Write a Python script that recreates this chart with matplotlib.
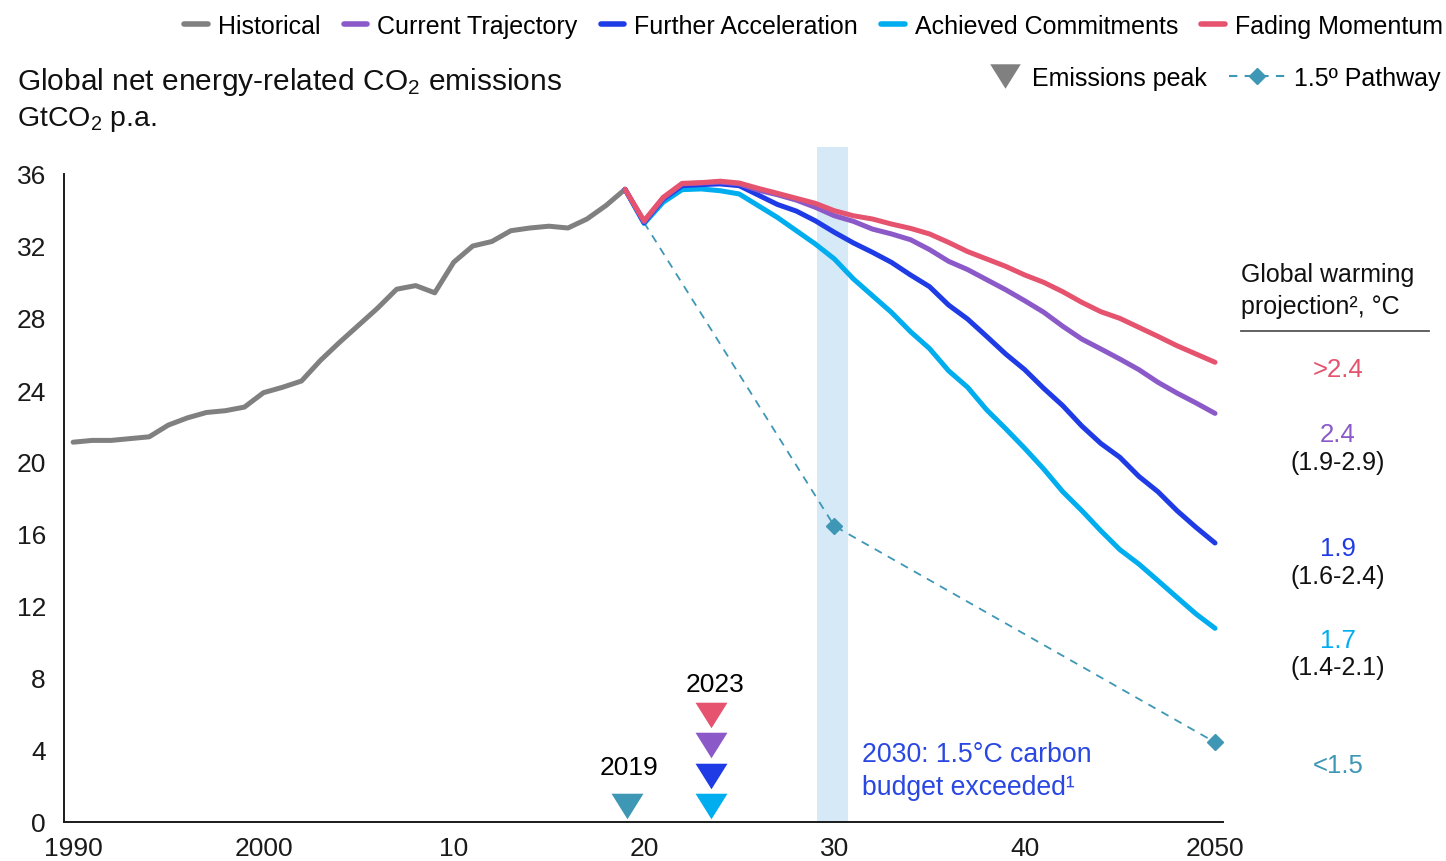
import matplotlib
matplotlib.use("Agg")
import matplotlib.pyplot as plt
from matplotlib.lines import Line2D

plt.rcParams["font.family"] = ["Liberation Sans", "DejaVu Sans"]
plt.rcParams["mathtext.fontset"] = "custom"
plt.rcParams["mathtext.rm"] = "Liberation Sans"
plt.rcParams["mathtext.it"] = "Liberation Sans"

# ── data ────────────────────────────────────────────────────────────────────
hist_years = list(range(1990, 2020))
hist_values = [21.1, 21.2, 21.2, 21.3, 21.4, 22.05, 22.45, 22.75, 22.85, 23.05,
               23.85, 24.15, 24.5, 25.65, 26.65, 27.6, 28.55, 29.6, 29.8, 29.4,
               31.1, 32.0, 32.25, 32.85, 33.0, 33.1, 33.0, 33.5, 34.25, 35.15]

scen_years = list(range(2019, 2051))
fading = [35.15, 33.4, 34.7, 35.48, 35.52, 35.6, 35.5, 35.2, 34.93, 34.65, 34.37,
          33.96, 33.68, 33.5, 33.22, 32.98, 32.67, 32.2, 31.69, 31.28, 30.87,
          30.39, 29.98, 29.46, 28.87, 28.35, 27.98, 27.48, 26.98, 26.46, 26.0, 25.54]
current = [35.15, 33.35, 34.65, 35.45, 35.5, 35.55, 35.45, 35.1, 34.85, 34.55, 34.15,
           33.68, 33.37, 32.94, 32.67, 32.35, 31.8, 31.15, 30.69, 30.13, 29.57,
           28.96, 28.32, 27.54, 26.83, 26.28, 25.72, 25.13, 24.43, 23.83, 23.28, 22.7]
further = [35.15, 33.3, 34.6, 35.35, 35.41, 35.45, 35.35, 34.83, 34.31, 33.94, 33.4,
           32.76, 32.17, 31.65, 31.09, 30.39, 29.74, 28.72, 27.94, 26.98, 26.0,
           25.13, 24.09, 23.13, 22.0, 21.03, 20.26, 19.2, 18.35, 17.3, 16.37, 15.5]
achieved = [35.15, 33.25, 34.43, 35.13, 35.17, 35.07, 34.89, 34.24, 33.59, 32.85, 32.11,
            31.28, 30.17, 29.24, 28.31, 27.24, 26.3, 25.07, 24.15, 22.9, 21.85,
            20.76, 19.61, 18.35, 17.3, 16.18, 15.13, 14.33, 13.41, 12.48, 11.56, 10.76]

pathway_years = [2020, 2030, 2050]
pathway_values = [33.3, 16.44, 4.43]

# emissions peak markers
peak_2019_year = 2019.12
peak_2019_y = 0.9
peak_2023_year = 2023.5
peak_2023_y = [0.9, 2.57, 4.29, 5.93]   # achieved, further, current, fading

warming_main = [">2.4", "2.4", "1.9", "1.7", "<1.5"]
warming_range = ["", "(1.9-2.9)", "(1.6-2.4)", "(1.4-2.1)", ""]

# ── colours ─────────────────────────────────────────────────────────────────
C_HIST = "#808080"
C_CUR = "#8b5ac8"
C_FUR = "#1f3be6"
C_ACH = "#00adef"
C_FAD = "#e5536e"
C_PATH = "#3e97b5"
C_BAND = "#d5e9f7"
C_NOTE = "#2a47e2"

W, H = 1446, 862
fig = plt.figure(figsize=(W / 100, H / 100), dpi=100)
ax = fig.add_axes([64 / W, 1 - 823 / H, (1223 - 64) / W, 675 / H])

ax.axvspan(2029.1, 2030.7, color=C_BAND, lw=0, zorder=0)

lw = 3.6
ax.plot(hist_years, hist_values, color=C_HIST, lw=lw, solid_capstyle="round", zorder=3)
ax.plot(pathway_years, pathway_values, color=C_PATH, lw=1.3, ls=(0, (4.5, 3.8)),
        marker="D", ms=8, markevery=[1, 2], zorder=2)
for vals, col in [(achieved, C_ACH), (further, C_FUR), (current, C_CUR), (fading, C_FAD)]:
    ax.plot(scen_years, vals, color=col, lw=lw, solid_capstyle="round",
            solid_joinstyle="round", zorder=4)

tri = [(-1, 0.8), (1, 0.8), (0, -0.8)]
ax.plot([peak_2019_year], [peak_2019_y], ls="none", marker=tri, ms=23, color=C_PATH,
        mec="none", zorder=5, clip_on=False)
for y, col in zip(peak_2023_y, [C_ACH, C_FUR, C_CUR, C_FAD]):
    ax.plot([peak_2023_year], [y], ls="none", marker=tri, ms=23, color=col,
            mec="none", zorder=5, clip_on=False)
ax.text(2019.2, 3.06, "2019", fontsize=19, ha="center", va="center", color="black")
ax.text(2023.72, 7.67, "2023", fontsize=19, ha="center", va="center", color="black")

ax.text(2031.45, 2.85, "2030: 1.5°C carbon\nbudget exceeded¹", fontsize=19.2,
        color=C_NOTE, ha="left", va="center", linespacing=1.38)

# axes styling
ax.set_xlim(1989.52, 2050.42)
ax.set_ylim(0, 37.5)
ax.set_yticks(range(0, 37, 4))
ax.set_xticks([1990, 2000, 2010, 2020, 2030, 2040, 2050])
ax.set_xticklabels(["1990", "2000", "10", "20", "30", "40", "2050"])
ax.tick_params(axis="both", length=0, labelsize=19, colors="#1a1a1a")
ax.tick_params(axis="y", pad=13)
ax.tick_params(axis="x", pad=10)
for s in ["top", "right"]:
    ax.spines[s].set_visible(False)
ax.spines["left"].set_bounds(0, 36)
for s in ["left", "bottom"]:
    ax.spines[s].set_linewidth(1.4)
    ax.spines[s].set_color("#1a1a1a")

# titles
fig.text(17 / W, 1 - 82 / H, r"Global net energy-related CO$_2$ emissions", fontsize=21.5,
         ha="left", va="center", color="#111111")
fig.text(17 / W, 1 - 120 / H, r"GtCO$_2$ p.a.", fontsize=20.5, ha="left", va="center",
         color="#111111")

# legends
row1 = [Line2D([], [], color=c, lw=4, solid_capstyle="round")
        for c in [C_HIST, C_CUR, C_FUR, C_ACH, C_FAD]]
fig.legend(row1, ["Historical", "Current Trajectory", "Further Acceleration",
                  "Achieved Commitments", "Fading Momentum"],
           loc="upper right", bbox_to_anchor=(1443 / W, 1 - 15 / H), ncol=5,
           frameon=False, fontsize=18, handlelength=0.95, handletextpad=0.4,
           columnspacing=0.92, borderpad=0, borderaxespad=0)
peak_handle = [Line2D([], [], ls="none", marker=tri, ms=22, color=C_HIST, mec="none")]
fig.legend(peak_handle, ["Emissions peak"],
           loc="upper right", bbox_to_anchor=(1207 / W, 1 - 67 / H),
           frameon=False, fontsize=18, handlelength=1.6, handletextpad=0.3,
           borderpad=0, borderaxespad=0, numpoints=1)
path_handle = [Line2D([], [], color=C_PATH, lw=1.5, ls=(0, (4, 3.5)), marker="D", ms=8)]
fig.legend(path_handle, ["1.5º Pathway"],
           loc="upper right", bbox_to_anchor=(1440 / W, 1 - 67 / H),
           frameon=False, fontsize=18, handlelength=2.3, handletextpad=0.3,
           borderpad=0, borderaxespad=0, numpoints=1)

# right-hand warming projection panel
fig.text(1241 / W, 1 - 275 / H, "Global warming", fontsize=18, ha="left", va="center",
         color="#111111")
fig.text(1241 / W, 1 - 307 / H, "projection², °C", fontsize=18, ha="left", va="center",
         color="#111111")
fig.add_artist(Line2D([1241 / W, 1429 / W], [1 - 332 / H, 1 - 332 / H],
                      color="#555555", lw=1.3))
main_y = [370, 435, 549, 641, 766]
range_y = [None, 463, 577, 668, None]
for txt, rng, my, ry, col in zip(warming_main, warming_range, main_y, range_y,
                                 [C_FAD, C_CUR, C_FUR, C_ACH, C_PATH]):
    fig.text(1338 / W, 1 - my / H, txt, fontsize=18.5, ha="center", va="center", color=col)
    if rng:
        fig.text(1338 / W, 1 - ry / H, rng, fontsize=18, ha="center", va="center",
                 color="#111111")

fig.savefig("out.png", dpi=100)
